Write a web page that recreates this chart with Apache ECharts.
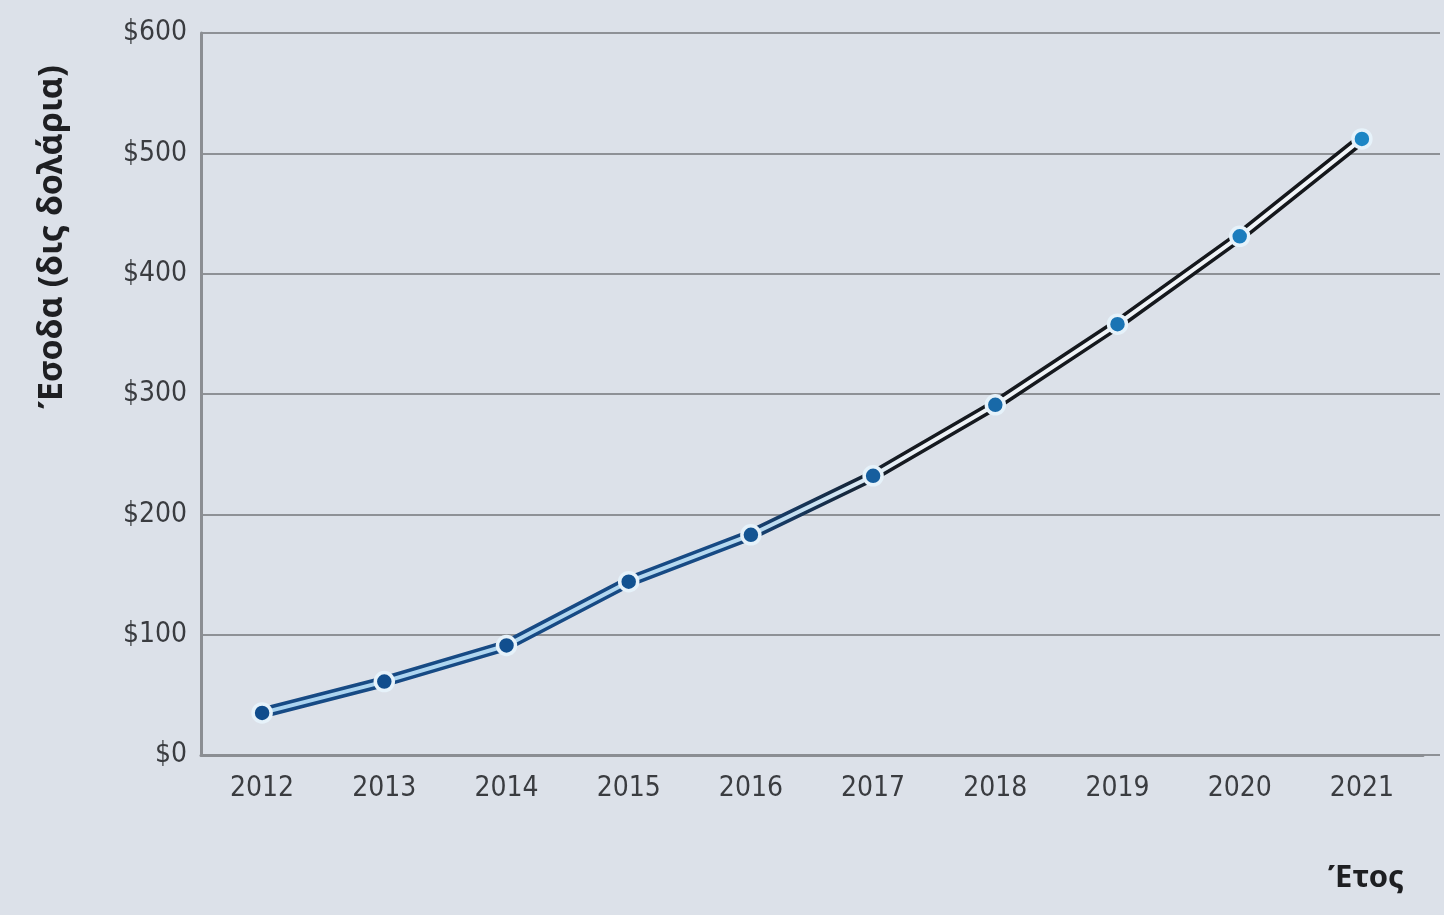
<!DOCTYPE html>
<html>
<head>
<meta charset="utf-8">
<script src="https://cdn.jsdelivr.net/npm/echarts@6/dist/echarts.min.js"></script>
<style>
  html, body { margin: 0; padding: 0; background: #dce1e9; }
  #chart { width: 1444px; height: 915px; }
</style>
</head>
<body>
<div id="chart"></div>
<script>
// Annual revenue, billions of dollars
const years = ['2012', '2013', '2014', '2015', '2016', '2017', '2018', '2019', '2020', '2021'];
const revenue = [35, 61, 91, 144, 183, 232, 291, 358, 431, 512];
const yTicks = [0, 100, 200, 300, 400, 500, 600];

const yTitle = 'Έσοδα (δις δολάρια)';
const xTitle = 'Έτος';

const tickFont = '"DejaVu Sans Condensed", "Liberation Sans Narrow", sans-serif';
const titleFont = '"Noto Sans", "Open Sans", sans-serif';

// stroke fades from navy to black along the line
const outerColor = new echarts.graphic.LinearGradient(0, 0, 1, 0, [
  { offset: 0, color: '#174a84' },
  { offset: 0.42, color: '#174a84' },
  { offset: 0.58, color: '#161a20' },
  { offset: 1, color: '#15171b' }
]);
const innerColor = new echarts.graphic.LinearGradient(0, 0, 1, 0, [
  { offset: 0, color: '#a9d3f0' },
  { offset: 0.45, color: '#b8daf0' },
  { offset: 0.6, color: '#eef2f6' },
  { offset: 1, color: '#f2f5f8' }
]);
const markerColors = ['#0f4c8c', '#104d8d', '#114f8f', '#125291', '#145593', '#165e9e', '#1869a8', '#1a74b4', '#1b7dbd', '#1c86c5'];

const chart = echarts.init(document.getElementById('chart'));
chart.setOption({
  backgroundColor: '#dce1e9',
  animation: false,
  grid: [
    { left: 201, right: 21, top: 33, bottom: 160 },
    { left: 201, right: 4, top: 33, bottom: 160 }
  ],
  xAxis: [
    {
      type: 'category',
      gridIndex: 0,
      data: years,
      boundaryGap: true,
      axisLine: { lineStyle: { color: '#8b8e93', width: 3 } },
      axisTick: { alignWithLabel: true, length: 12, lineStyle: { color: '#8b8e93', width: 2 } },
      axisLabel: { color: '#3a3c40', fontFamily: tickFont, fontSize: 28, margin: 20 },
      splitLine: { show: false }
    },
    { type: 'value', gridIndex: 1, show: false }
  ],
  yAxis: [
    {
      type: 'value',
      gridIndex: 0,
      min: yTicks[0],
      max: yTicks[yTicks.length - 1],
      interval: 100,
      axisLine: { show: true, lineStyle: { color: '#8b8e93', width: 3 } },
      axisTick: { show: false },
      axisLabel: {
        color: '#3a3c40', fontFamily: tickFont, fontSize: 28, margin: 14,
        formatter: v => '$' + v
      },
      splitLine: { show: false }
    },
    {
      type: 'value',
      gridIndex: 1,
      min: yTicks[0],
      max: yTicks[yTicks.length - 1],
      interval: 100,
      axisLine: { show: false },
      axisTick: { show: false },
      axisLabel: { show: false },
      splitLine: { show: true, lineStyle: { color: '#8e9196', width: 2 } }
    }
  ],
  series: [
    {
      type: 'line',
      data: revenue,
      xAxisIndex: 0, yAxisIndex: 0,
      symbol: 'none',
      lineStyle: { color: outerColor, width: 11 },
      z: 3
    },
    {
      type: 'line',
      data: revenue,
      xAxisIndex: 0, yAxisIndex: 0,
      symbol: 'circle',
      symbolSize: 18,
      lineStyle: { color: innerColor, width: 4 },
      itemStyle: {
        color: p => markerColors[p.dataIndex],
        borderColor: '#e6f2fa',
        borderWidth: 3.5
      },
      z: 4
    }
  ],
  graphic: [
    {
      type: 'text',
      x: 52, y: 237,
      rotation: Math.PI / 2,
      style: {
        text: yTitle,
        font: 'bold 34px ' + titleFont,
        fill: '#1e1f22',
        align: 'center',
        verticalAlign: 'middle'
      }
    },
    {
      type: 'text',
      x: 1366, y: 878,
      style: {
        text: xTitle,
        font: 'bold 31px ' + titleFont,
        fill: '#1e1f22',
        align: 'center',
        verticalAlign: 'middle'
      }
    }
  ]
});
</script>
</body>
</html>
